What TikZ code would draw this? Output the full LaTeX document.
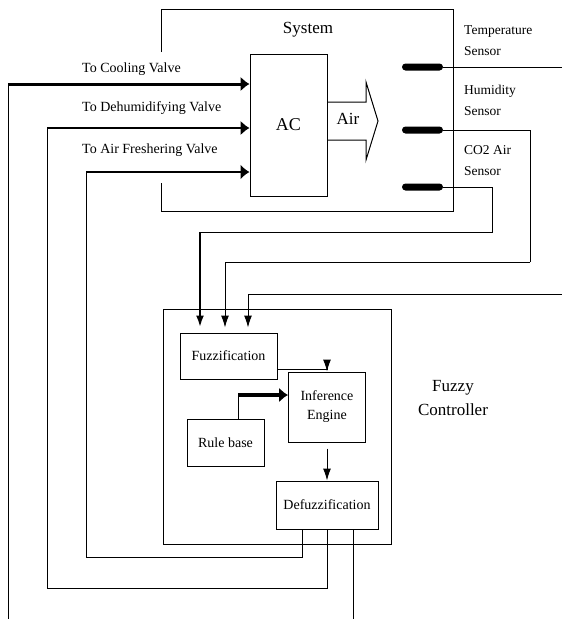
\documentclass[tikz,border=0pt]{standalone}
\usepackage{fontspec}
\setmainfont{Liberation Serif}
\usetikzlibrary{arrows.meta,calc}
\begin{document}
\begin{tikzpicture}[x=1pt,y=-1pt,
  box/.style={draw,line width=1pt,inner sep=0pt,font=\fontsize{14}{19}\selectfont,align=center},
  ln/.style={line width=1pt},
  htip/.style={-{Latex[length=9pt,width=15pt]}},
  vtip/.style={-{Latex[length=12pt,width=8pt]}},
  lbl/.style={inner sep=0pt,font=\fontsize{14}{16}\selectfont},
  sens/.style={inner sep=0pt,align=left,font=\fontsize{13.5}{21}\selectfont,anchor=west},
  bar/.style={fill=black,rounded corners=3.5pt,minimum width=41pt,minimum height=7pt,inner sep=0pt},
  big/.style={inner sep=0pt,font=\fontsize{17}{24}\selectfont,align=center},
]
\useasboundingbox (0,0) rectangle (562,619);

% System enclosure (open on the left between the valve inputs)
\coordinate (s1) at (161,52);
\coordinate (s2) at (161,9);
\coordinate (s3) at (453,9);
\coordinate (s4) at (453,211);
\coordinate (s5) at (161,211);
\coordinate (s6) at (161,183);
\draw[ln] (s1) -- (s2) -- (s3) -- (s4) -- (s5) -- (s6);
\node[big] (systxt) at (308,30) {System};

% AC unit and air arrow
\node[box,minimum width=77pt,minimum height=142pt,font=\fontsize{18}{20}\selectfont] (ac) at (288.5,125) {AC};
\coordinate (a1) at (327,102);
\coordinate (a2) at (366,102);
\coordinate (a3) at (366,82);
\coordinate (a4) at (378,121);
\coordinate (a5) at (366,160);
\coordinate (a6) at (366,140);
\coordinate (a7) at (327,140);
\draw[ln] (a1) -- (a2) -- (a3) -- (a4) -- (a5) -- (a6) -- (a7);
\node[big] (airtxt) at (348,119) {Air};

% Sensors
\node[bar] (tbar) at (422.5,67) {};
\node[bar] (hbar) at (422.5,130) {};
\node[bar] (cbar) at (422.5,187) {};
\node[sens] (tlab) at (464,41) {Temperature\\Sensor};
\node[sens] (hlab) at (464,100) {Humidity\\Sensor};
\node[sens] (clab) at (464,161) {CO2 Air\\Sensor};

% Valve labels
\node[lbl,anchor=west] (l1) at (82,69) {To Cooling Valve};
\node[lbl,anchor=west] (l2) at (82,108) {To Dehumidifying Valve};
\node[lbl,anchor=west] (l3) at (82,150) {To Air Freshering Valve};

% Fuzzy controller
\node[box,minimum width=228pt,minimum height=235pt] (fc) at (277,426.5) {};
\node[big] (fctxt) at (453,398) {Fuzzy\\Controller};
\node[box,minimum width=97pt,minimum height=46pt] (fuzz) at (228.5,356) {Fuzzification};
\node[box,minimum width=77pt,minimum height=70pt] (inf) at (327,407) {Inference\\Engine};
\node[box,minimum width=77pt,minimum height=47pt] (rule) at (225.5,442.5) {Rule base};
\node[box,minimum width=102pt,minimum height=48pt] (defz) at (327,505) {Defuzzification};

% Sensor signals to fuzzification
\coordinate (tout) at (562,67);
\coordinate (tin) at (562,294);
\draw[ln] (tbar.east) -- (tout);
\draw[ln,vtip] (tin) -| ([xshift=19.5pt,yshift=5pt]fuzz.north);
\coordinate (hc) at (530,262);
\draw[ln] (hbar.east) -| (hc);
\draw[ln,vtip] (hc) -| ([xshift=-3.5pt,yshift=5pt]fuzz.north);
\coordinate (cc) at (492,232);
\coordinate (cd) at (200,232);
\draw[ln] (cbar.east) -| (cc) -- (cd);
\draw[line width=2.5pt,vtip] (cd) -- ([xshift=-28.5pt,yshift=5pt]fuzz.north);

% Inside the controller
\draw[ln,vtip] ([yshift=-13pt]fuzz.east) -| (inf.north);
\coordinate (rb) at (238,395);
\draw[ln] ([xshift=12.5pt]rule.north) -- (rb);
\draw[line width=4pt,htip] (rb) -- ([yshift=12pt]inf.west);
\draw[ln,vtip] ([yshift=-6pt]inf.south) -- (defz.north);

% Outputs back to the valves
\coordinate (f1) at (86,557);
\coordinate (f2) at (86,172);
\draw[ln] ([xshift=-25pt]defz.south) |- (f1) -- (f2);
\draw[line width=1.5pt,htip] (f2) -- ([yshift=-47pt]ac.west);
\coordinate (d1) at (47,588);
\coordinate (d2) at (47,128);
\draw[ln] (defz.south) |- (d1) -- (d2);
\draw[line width=2pt,htip] (d2) -- ([yshift=-3pt]ac.west);
\coordinate (cout) at (353,619);
\coordinate (cin) at (8,619);
\coordinate (c2) at (8,84);
\draw[ln] ([xshift=26pt]defz.south) -- (cout);
\draw[ln] (cin) -- (c2);
\draw[line width=3pt,htip] (c2) -- ([yshift=41pt]ac.west);
\end{tikzpicture}
\end{document}
